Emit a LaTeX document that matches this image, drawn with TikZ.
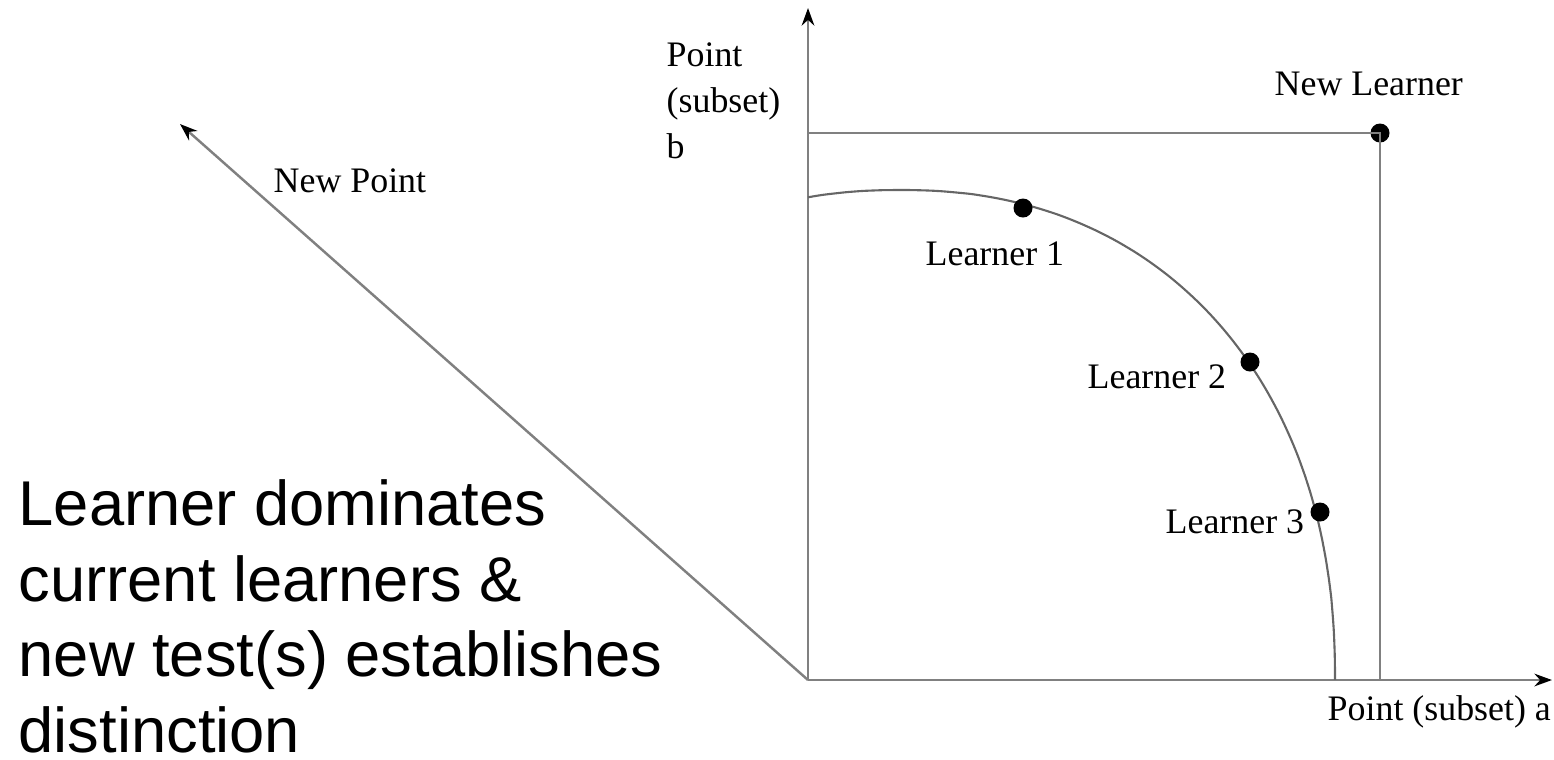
\documentclass[tikz,border=0pt]{standalone}
\usepackage{fontspec}
\setmainfont{Liberation Serif}
\newfontfamily\bigsans{Liberation Sans}
\usepackage{xcolor}
\usepackage{tikz}
\usetikzlibrary{arrows.meta,positioning,calc}

\begin{document}
\begin{tikzpicture}[
    x=0.01cm, y=-0.01cm,
    axis/.style={draw=black!50, line width=0.7pt, -{Stealth[length=5pt, width=3.6pt, color=black]}},
    guide/.style={draw=black!50, line width=0.7pt},
    front/.style={draw=black!60, line width=0.6pt},
    learner/.style={circle, fill=black, inner sep=0pt, minimum size=0.19cm},
    lbl/.style={inner sep=0pt, font=\fontsize{10.2}{13.1}\selectfont},
    note/.style={inner sep=0pt, align=left, font=\bigsans\fontsize{18}{21.5}\selectfont},
]
    \useasboundingbox (0,0) rectangle (1554,759);

    % Axes
    \coordinate (origin) at (808,680);
    \coordinate (ytop) at (808,8);
    \coordinate (xend) at (1552,680);
    \coordinate (npend) at (180,124);
    \draw[axis] (origin) -- (ytop);
    \draw[axis] (origin) -- (xend);
    \draw[axis] (origin) -- (npend);

    % Front of current learners (superellipse quarter)
    \draw[front] plot[domain=0.01:100.4, samples=90, smooth]
        ({900+435*sign(cos(\x))*pow(max(abs(cos(\x)),0.0001),0.909)},
         {680-490*pow(max(abs(sin(\x)),0.0001),0.909)});

    % Learners
    \node[learner] (newl) at (1380,133) {};
    \node[learner] (l1) at (1023,208) {};
    \node[learner] (l2) at (1250,362) {};
    \node[learner] (l3) at (1320,512) {};

    % New learner guides
    \coordinate (bmark) at (808,133);
    \coordinate (amark) at (1380,680);
    \draw[guide] (bmark) -- (newl.center) -- (amark);

    % Labels
    \node[lbl, anchor=north west, align=left] (blbl) at (666,42) {Point\\(subset)\\b};
    \node[lbl, anchor=base west] (nplbl) at (273,192) {New Point};
    \node[lbl, anchor=base west] (nllbl) at (1274,95) {New Learner};
    \node[lbl, anchor=base west] (l1lbl) at (925,265) {Learner 1};
    \node[lbl, anchor=base west] (l2lbl) at (1087,388) {Learner 2};
    \node[lbl, anchor=base west] (l3lbl) at (1165,533) {Learner 3};
    \node[lbl, anchor=base west] (albl) at (1327,720) {Point (subset) a};

    % Note
    \node[note, anchor=north west] (remark) at (18,479) {Learner dominates\\current learners \&\\new test(s) establishes\\distinction};
\end{tikzpicture}
\end{document}
